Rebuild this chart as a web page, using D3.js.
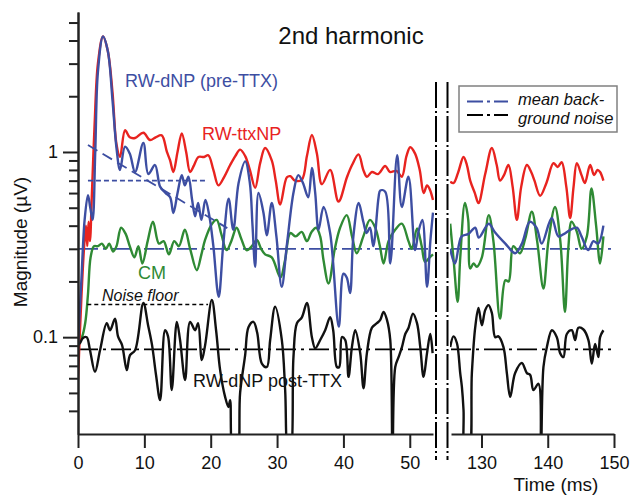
<!DOCTYPE html>
<html><head><meta charset="utf-8">
<script src="https://cdn.jsdelivr.net/npm/d3@7"></script>
<style>
body{margin:0;background:#fff}
svg{display:block}
text{font-family:"Liberation Sans",Arial,Helvetica,sans-serif}
</style>
</head><body>
<svg id="chart" width="632" height="496"></svg>
<script>
// ---- data (time in ms, magnitude in µV) ----
const rwTtxNP = [[0,0.059],[0.5,0.16],[0.9,0.3],[1.2,0.40],[1.4,0.31],[1.6,0.42],[1.8,0.33],[2.1,0.6],[2.5,1.4],[3.0,3.0],[3.77,4.2],[4.5,3.5],[5.2,2.1],[5.8,1.1],[6.33,0.94],[7.09,1.31],[7.8,1.2],[8.6,1.19],[9.85,1.27],[10.86,1.16],[11.7,1.2],[12.62,1.23],[13.4,1.0],[13.88,0.9],[14.37,0.78],[15.0,1.0],[15.64,1.26],[16.3,1.0],[16.89,0.78],[17.5,0.85],[18.14,0.94],[19.0,0.94],[19.64,0.96],[20.4,0.8],[21.16,0.66],[22.0,0.73],[22.93,0.85],[23.7,0.95],[24.43,1.03],[25.2,0.95],[25.9,0.8],[26.7,0.64],[27.45,0.87],[28.2,1.05],[29.2,0.9],[29.8,0.7],[30.47,0.52],[31.48,0.73],[32.0,0.74],[32.7,0.70],[33.74,0.71],[34.5,0.95],[35.25,1.235],[36.0,0.98],[36.76,0.67],[38.0,0.8],[39.26,0.54],[40.53,0.73],[41.3,0.85],[42.28,0.97],[43.0,0.8],[43.54,0.735],[44.3,0.78],[45.2,0.76],[46.3,0.84],[47.0,0.78],[48.0,0.79],[48.8,0.735],[49.5,0.95],[50.07,1.06],[50.8,0.98],[51.5,0.8],[52.1,0.6],[52.6,0.66],[53.0,0.63],[53.5,0.55],
  [125.28,0.69],[125.8,0.68],[126.5,0.78],[127.29,0.94],[127.8,0.85],[128.3,0.70],[129.0,0.6],[129.55,0.53],[130.56,0.76],[131.57,1.05],[132.3,0.85],[132.8,0.70],[133.4,0.75],[134.07,0.85],[134.7,0.65],[135.34,0.43],[136.0,0.65],[136.85,0.85],[137.5,0.78],[138.0,0.7],[138.85,0.58],[139.8,0.68],[140.86,0.87],[141.5,0.83],[142.1,0.88],[142.8,0.65],[143.38,0.44],[143.9,0.65],[144.39,0.87],[145.1,0.75],[145.6,0.68],[146.4,0.85],[147.0,0.75],[147.5,0.8],[147.9,0.78],[148.4,0.70]];

const rwDnpPre = [[0,0.09],[0.5,0.2],[1.0,0.43],[1.5,0.585],[1.85,0.5],[2.2,0.43],[2.6,1.0],[3.0,2.7],[3.77,4.2],[4.5,3.5],[5.2,1.9],[5.8,1.05],[6.33,0.8],[7.09,1.068],[7.8,0.98],[8.6,0.78],[9.85,1.12],[10.6,0.76],[11.6,0.85],[12.37,0.65],[13.2,0.6],[13.88,0.57],[14.37,0.468],[15.0,0.6],[15.64,0.75],[16.1,0.66],[16.64,0.735],[17.2,0.55],[17.65,0.45],[18.1,0.53],[18.6,0.43],[19.2,0.55],[19.8,0.45],[20.4,0.31],[21.2,0.165],[21.9,0.32],[22.7,0.56],[23.4,0.38],[24.2,0.68],[25.2,0.89],[25.9,0.68],[26.3,0.4],[26.7,0.24],[27.2,0.60],[27.95,0.47],[28.45,0.355],[29.2,0.53],[29.9,0.35],[30.7,0.187],[31.5,0.32],[32.5,0.61],[33.2,0.75],[33.9,0.68],[34.7,0.57],[35.25,0.82],[35.75,0.6],[36.25,0.38],[37.0,0.505],[38.0,0.365],[39.3,0.114],[40.0,0.22],[40.5,0.21],[41.0,0.173],[41.5,0.35],[42.3,0.53],[43.0,0.42],[43.5,0.365],[44.0,0.39],[44.5,0.31],[45.3,0.57],[45.55,0.62],[46.3,0.61],[47.06,0.25],[48.1,0.96],[48.8,0.505],[49.8,0.735],[50.8,0.295],[51.3,0.37],[51.9,0.43],[52.6,0.187],[53.1,0.33],[53.5,0.47],
  [125.28,0.30],[126.0,0.25],[127.0,0.35],[128.0,0.36],[129.05,0.39],[129.6,0.345],[131.1,0.41],[132.0,0.37],[133.6,0.32],[135.1,0.284],[136.1,0.32],[137.3,0.42],[138.3,0.39],[139.1,0.32],[140.6,0.44],[141.6,0.35],[142.4,0.36],[143.4,0.38],[144.4,0.39],[145.1,0.35],[146.1,0.295],[146.9,0.33],[147.6,0.32],[148.4,0.40]];

const cm = [[0,0.092],[0.6,0.1],[1.1,0.12],[1.5,0.17],[1.9,0.27],[2.4,0.31],[3.0,0.31],[3.6,0.32],[4.2,0.3],[4.7,0.32],[5.3,0.29],[5.8,0.31],[6.5,0.39],[7.2,0.36],[7.8,0.31],[8.5,0.27],[9.1,0.31],[9.7,0.25],[10.5,0.33],[11.3,0.42],[12.2,0.32],[12.9,0.33],[13.7,0.28],[14.5,0.33],[15.2,0.31],[16.1,0.38],[16.9,0.3],[17.9,0.23],[18.6,0.28],[19.15,0.335],[20.2,0.41],[20.9,0.43],[21.6,0.36],[22.4,0.295],[23.1,0.33],[23.9,0.39],[24.6,0.34],[25.4,0.295],[26.2,0.31],[26.95,0.335],[27.6,0.3],[28.2,0.28],[29.2,0.27],[30.5,0.21],[31.2,0.26],[32.0,0.365],[32.8,0.35],[33.7,0.37],[34.5,0.33],[35.2,0.37],[35.9,0.39],[36.5,0.35],[37.0,0.26],[37.76,0.195],[38.7,0.3],[39.5,0.39],[40.5,0.456],[41.3,0.35],[42.0,0.284],[43.0,0.35],[44.0,0.43],[44.8,0.39],[45.5,0.31],[46.05,0.25],[46.8,0.33],[47.8,0.38],[48.8,0.41],[49.8,0.33],[50.3,0.30],[51.1,0.387],[51.8,0.31],[52.3,0.255],[53.0,0.27],[53.5,0.28],
  [125.28,0.41],[125.8,0.26],[126.4,0.155],[126.8,0.27],[127.5,0.53],[128.0,0.43],[128.3,0.235],[128.8,0.25],[129.3,0.24],[130.06,0.27],[131.1,0.456],[131.8,0.33],[132.8,0.126],[133.6,0.203],[134.1,0.20],[134.8,0.31],[135.8,0.284],[136.6,0.34],[137.6,0.476],[138.4,0.33],[139.35,0.183],[140.1,0.33],[141.1,0.505],[141.9,0.33],[142.6,0.137],[143.1,0.3],[143.6,0.42],[144.4,0.37],[145.1,0.3],[145.9,0.35],[146.6,0.636],[147.3,0.4],[147.9,0.25],[148.4,0.35]];

const rwDnpPost = [[0,0.0906],[0.3,0.093],[0.75,0.099],[1.31,0.1],[1.81,0.085],[2.56,0.065],[3.32,0.085],[4.33,0.119],[4.83,0.109],[5.58,0.126],[6.03,0.101],[6.64,0.0906],[7.35,0.0664],[7.84,0.08],[8.6,0.085],[9.85,0.153],[10.56,0.116],[11.16,0.0906],[11.76,0.0625],[12.37,0.0457],[13.12,0.109],[13.57,0.101],[14.13,0.0518],[14.89,0.121],[15.38,0.0965],[16.14,0.0587],[16.89,0.121],[17.65,0.109],[18.1,0.119],[18.66,0.0752],[19.16,0.0906],[20.17,0.159],[20.81,0.109],[21.42,0.0664],[22.17,0.0476],[22.67,0.042],[22.93,0.0457],[23.42,0.022],[23.94,0.022],[24.43,0.05],[25.19,0.08],[25.69,0.113],[26.44,0.121],[27.0,0.106],[27.71,0.072],[28.46,0.069],[28.96,0.0965],[29.71,0.146],[30.72,0.0965],[31.22,0.0518],[31.72,0.022],[31.98,0.022],[32.47,0.078],[32.99,0.119],[33.74,0.128],[34.5,0.153],[35.25,0.1],[35.75,0.087],[36.5,0.0965],[37.25,0.109],[38.0,0.128],[38.46,0.109],[39.02,0.069],[39.37,0.069],[39.77,0.1],[40.27,0.0965],[40.77,0.061],[41.28,0.0884],[41.78,0.109],[42.53,0.082],[43.03,0.053],[43.54,0.082],[44.3,0.1125],[45.05,0.119],[45.55,0.124],[46.05,0.137],[46.56,0.124],[47.06,0.0965],[47.4,0.022],[47.81,0.069],[48.31,0.078],[48.82,0.0884],[49.32,0.104],[49.82,0.1125],[50.48,0.134],[51.09,0.119],[51.58,0.0884],[52.08,0.061],[52.6,0.082],[53.09,0.104],[53.44,0.082],
  [125.28,0.0884],[125.78,0.101],[126.29,0.093],[126.79,0.064],[127.04,0.054],[127.29,0.0404],[127.54,0.022],[128.04,0.022],[128.55,0.064],[129.05,0.1125],[129.55,0.144],[130.06,0.116],[130.56,0.14],[131.06,0.149],[131.57,0.135],[132.07,0.1],[132.56,0.101],[133.32,0.0884],[133.83,0.064],[134.33,0.0476],[135.08,0.064],[136.09,0.0725],[136.85,0.064],[137.35,0.0625],[137.84,0.0518],[138.6,0.056],[138.96,0.022],[139.35,0.069],[139.87,0.0884],[140.62,0.109],[141.37,0.1],[141.87,0.082],[142.37,0.078],[142.88,0.104],[143.63,0.109],[144.13,0.0965],[144.63,0.1125],[145.39,0.11],[146.14,0.0965],[146.65,0.072],[147.15,0.092],[147.65,0.078],[147.9,0.1],[148.4,0.109]];

const meanNoisePre = 0.3;      // blue dash-dot
const meanNoisePost = 0.086;   // black dash-dot
const noiseFloorLine = [[1.4,0.15],[19.6,0.15]];
const preTtxLevel = [[1.5,0.7],[19.5,0.7]];
const preTtxTrend = [[1.5,1.09],[22.5,0.388]];

const panel1Domain = [0, 53.5];
const panel2Domain = [125.4, 150];
const xTicks1 = [0,10,20,30,40,50];
const xTicks2 = [130,140,150];
const yMajorTicks = [0.1, 1];
const yMinorTicks = [0.04,0.05,0.06,0.07,0.08,0.09,0.2,0.3,0.4,0.5,0.6,0.7,0.8,0.9,2,3,4,5];

// ---- drawing ----
const svg = d3.select("#chart");
const colors = {red:"#e8231f", blue:"#3d4ea2", green:"#2f8a34", black:"#111"};

const x1 = d3.scaleLinear().domain(panel1Domain).range([78, 433]);
const x2 = d3.scaleLinear().domain(panel2Domain).range([451, 614]);
const y = d3.scaleLog().domain([0.03, 5.7]).range([434, 12]);

const defs = svg.append("defs");
defs.append("clipPath").attr("id","clip1").append("rect").attr("x",78).attr("y",10).attr("width",356).attr("height",424);
defs.append("clipPath").attr("id","clip2").append("rect").attr("x",450).attr("y",10).attr("width",166).attr("height",424);

const panels = [{x:x1, clip:"clip1", f:d=>d[0]<100}, {x:x2, clip:"clip2", f:d=>d[0]>100}];

const series = [
  {data:cm, color:colors.green},
  {data:rwTtxNP, color:colors.red},
  {data:rwDnpPost, color:colors.black},
  {data:rwDnpPre, color:colors.blue}
];

// reference dash-dot lines
panels.forEach(p=>{
  const [a,b] = p.x.domain();
  [[meanNoisePre, colors.blue],[meanNoisePost, "#000"]].forEach(([v,c])=>{
    svg.append("line").attr("x1",p.x(a)).attr("x2",p.x(b)).attr("y1",y(v)).attr("y2",y(v))
      .attr("stroke",c).attr("stroke-width",1.8).attr("stroke-dasharray","20,5,3,5");
  });
});

panels.forEach(p=>{
  const g = svg.append("g").attr("clip-path",`url(#${p.clip})`);
  const line = d3.line().x(d=>p.x(d[0])).y(d=>y(d[1])).curve(d3.curveCatmullRom.alpha(0.5));
  series.forEach(s=>{
    g.append("path").attr("d", line(s.data.filter(p.f)))
      .attr("fill","none").attr("stroke",s.color).attr("stroke-width",2.4)
      .attr("stroke-linejoin","round");
  });
});

// dashed annotation lines
const lin = d3.line().x(d=>x1(d[0])).y(d=>y(d[1]));
svg.append("path").attr("d",lin(preTtxLevel)).attr("stroke",colors.blue).attr("stroke-width",1.6).attr("stroke-dasharray","5,3").attr("fill","none");
svg.append("path").attr("d",lin(preTtxTrend)).attr("stroke",colors.blue).attr("stroke-width",1.8).attr("stroke-dasharray","11,6").attr("fill","none");
svg.append("path").attr("d",lin(noiseFloorLine)).attr("stroke","#000").attr("stroke-width",1.5).attr("stroke-dasharray","4,3").attr("fill","none");

// axes
const axisStyle = g=>{
  g.selectAll("path.domain").attr("stroke","#222").attr("stroke-width",2);
  g.selectAll(".tick line").attr("stroke","#222").attr("stroke-width",2);
  g.selectAll("text").attr("font-size",18).attr("fill","#111")
   .attr("font-family",'"Liberation Sans",Arial,sans-serif');
};
svg.append("g").attr("transform","translate(78,0)")
  .call(d3.axisLeft(y).tickValues(yMinorTicks).tickSize(9).tickSizeOuter(0).tickFormat(""))
  .call(axisStyle);
svg.append("g").attr("transform","translate(78,0)")
  .call(d3.axisLeft(y).tickValues(yMajorTicks).tickSize(15).tickSizeOuter(0).tickPadding(5).tickFormat(d3.format("")))
  .call(axisStyle);
svg.append("g").attr("transform","translate(0,434)")
  .call(d3.axisBottom(x1).tickValues(xTicks1).tickSize(14).tickSizeOuter(0).tickPadding(8))
  .call(axisStyle);
svg.append("g").attr("transform","translate(0,434)")
  .call(d3.axisBottom(x2).tickValues(xTicks2).tickSize(14).tickSizeOuter(0).tickPadding(8))
  .call(axisStyle);

// axis break lines
[436, 447.5].forEach(xx=>{
  svg.append("line").attr("x1",xx).attr("x2",xx).attr("y1",82).attr("y2",460)
    .attr("stroke","#000").attr("stroke-width",2).attr("stroke-dasharray","26,3,2,3");
});

// texts
const txt = (s,x,yy,opts={})=>{
  const t = svg.append("text").attr("x",x).attr("y",yy).text(s)
    .attr("font-size",opts.size||18).attr("fill",opts.color||"#111")
    .attr("text-anchor",opts.anchor||"start");
  if(opts.italic) t.attr("font-style","italic");
  return t;
};
txt("2nd harmonic",351,44,{size:24,anchor:"middle"});
txt("RW-dNP (pre-TTX)",125,87,{color:colors.blue});
txt("RW-ttxNP",202,140,{color:colors.red});
txt("CM",138,279,{color:colors.green});
txt("Noise floor",102,301,{size:16,italic:true});
txt("RW-dNP post-TTX",193,387);
txt("Time (ms)",556,491,{size:19,anchor:"middle"});
svg.append("text").attr("transform","translate(27,242) rotate(-90)").attr("text-anchor","middle")
  .attr("font-size",19).attr("fill","#111").text("Magnitude (\u00b5V)");

// legend
svg.append("rect").attr("x",459).attr("y",86).attr("width",158).attr("height",46)
  .attr("fill","#fff").attr("stroke","#808080").attr("stroke-width",1.5);
[[101.5,colors.blue],[115,"#000"]].forEach(([yy,c])=>{
  svg.append("line").attr("x1",467).attr("x2",508).attr("y1",yy).attr("y2",yy)
    .attr("stroke",c).attr("stroke-width",2).attr("stroke-dasharray","16,4,3,4");
});
txt("mean back-",518,105,{size:16.5,italic:true});
txt("ground noise",518,124,{size:16.5,italic:true});
</script>
</body></html>
